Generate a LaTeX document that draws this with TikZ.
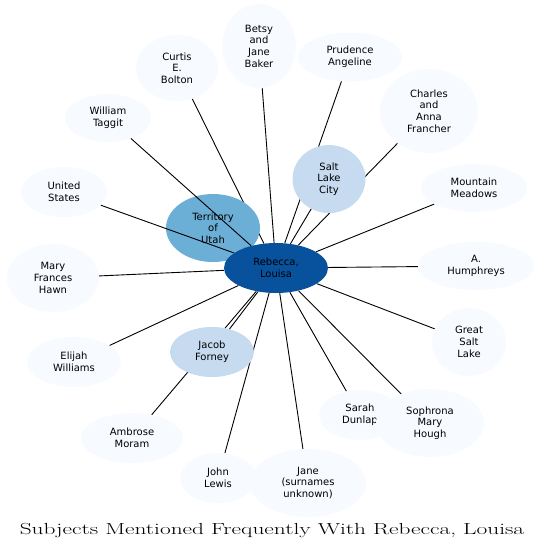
\documentclass[tikz,border=0pt]{standalone}
\usepackage{fontspec}
\usepackage{tikz}
\usetikzlibrary{shapes.geometric}
\newfontfamily\nodesans{DejaVu Sans}
\newfontfamily\titleserif{Latin Modern Roman}[FakeStretch=1.46]
\definecolor{blueA}{HTML}{F7FBFF}
\definecolor{blueC}{HTML}{C6DBEF}
\definecolor{blueE}{HTML}{6BAED6}
\definecolor{blueH}{HTML}{08519C}
\pgfdeclarelayer{back}
\pgfdeclarelayer{front}
\pgfsetlayers{back,main,front}

\begin{document}
\begin{tikzpicture}[x=1pt, y=-1pt, every node/.style={ellipse, inner sep=0pt, align=center, font=\nodesans\fontsize{10}{11.7}\selectfont},
  subject/.style={fill=blueA}, place/.style={fill=blueC}, region/.style={fill=blueE}, focus/.style={fill=blueH},
  link/.style={line width=0.9pt}]
\useasboundingbox (0,0) rectangle (544,552);

% centre
\begin{pgfonlayer}{front}
\node[focus, minimum width=104, minimum height=50] (rebecca) at (276,268) {Rebecca,\\Louisa};
\end{pgfonlayer}

% outer subjects
\node[subject, minimum width=74, minimum height=84] (betsy) at (259,46) {Betsy\\and\\Jane\\Baker};
\node[subject, minimum width=82, minimum height=66] (curtis) at (177,68) {Curtis\\E.\\Bolton};
\node[subject, minimum width=104, minimum height=49] (prudence) at (350,57) {Prudence\\Angeline};
\node[subject, minimum width=98, minimum height=84] (charles) at (429,111) {Charles\\and\\Anna\\Francher};
\node[subject, minimum width=86, minimum height=48] (william) at (108,118) {William\\Taggit};
\node[subject, minimum width=106, minimum height=48] (mountain) at (474,188) {Mountain\\Meadows};
\node[subject, minimum width=86, minimum height=50] (us) at (64,192) {United\\States};
\node[subject, minimum width=92, minimum height=68] (mary) at (53,278) {Mary\\Frances\\Hawn};
\node[subject, minimum width=116, minimum height=48] (humphreys) at (476,266) {A.\\Humphreys};
\node[subject, minimum width=74, minimum height=68] (gsl) at (469,342) {Great\\Salt\\Lake};
\node[subject, minimum width=94, minimum height=50] (elijah) at (74,362) {Elijah\\Williams};
\node[subject, minimum width=102, minimum height=50] (ambrose) at (132,438) {Ambrose\\Moram};
\node[subject, minimum width=82, minimum height=50] (sarah) at (360,415) {Sarah\\Dunlap};
\node[subject, minimum width=108, minimum height=68] (sophrona) at (430,423) {Sophrona\\Mary\\Hough};
\node[subject, minimum width=76, minimum height=50] (john) at (218,478) {John\\Lewis};
\node[subject, minimum width=116, minimum height=68] (jane) at (308,483) {Jane\\(surnames\\unknown)};

% edges under the coloured nodes
\begin{pgfonlayer}{back}
\foreach \s in {betsy,curtis,prudence,charles,mountain,mary,humphreys,gsl,elijah,ambrose,sarah,sophrona,john,jane}
  \draw[link] (rebecca) -- (\s);
\end{pgfonlayer}

% coloured nodes
\node[region, minimum width=94, minimum height=68] (territory) at (213,228) {Territory\\of\\Utah};
\node[place, minimum width=73, minimum height=68] (slc) at (329,179) {Salt\\Lake\\City};
\node[place, minimum width=84, minimum height=50] (jacob) at (212,352) {Jacob\\Forney};
\draw[link] (rebecca) -- (territory);
\draw[link] (rebecca) -- (slc);
\draw[link] (rebecca) -- (jacob);
\draw[link] (rebecca) -- (us);
\draw[link] (rebecca) -- (william);

% title
\node[draw=none, font=\titleserif\fontsize{16}{18}\selectfont] (title) at (272,531) {Subjects Mentioned Frequently With Rebecca, Louisa};
\end{tikzpicture}
\end{document}
